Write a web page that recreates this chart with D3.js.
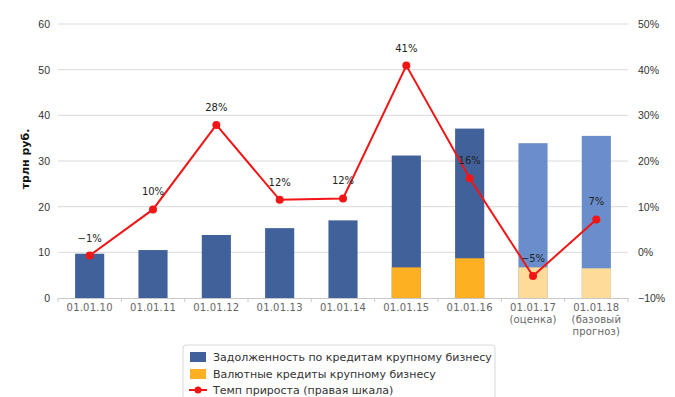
<!DOCTYPE html>
<html>
<head>
<meta charset="utf-8">
<script src="https://cdn.jsdelivr.net/npm/d3@7"></script>
<style>
  body { margin: 0; background: #fff; }
  svg { font-family: "DejaVu Sans", sans-serif; }
</style>
</head>
<body>
<svg id="chart" width="675" height="397"></svg>
<script>
// data
const categories = ["01.01.10", "01.01.11", "01.01.12", "01.01.13", "01.01.14",
                    "01.01.15", "01.01.16", "01.01.17\n(оценка)", "01.01.18\n(базовый\nпрогноз)"];
const totalDebt = [9.7, 10.5, 13.8, 15.3, 17.0, 31.2, 37.1, 33.9, 35.5];
const fxLoans = [0, 0, 0, 0, 0, 6.7, 8.7, 6.7, 6.5];
const isForecast = [false, false, false, false, false, false, false, true, true];
const growth = [-0.7, 9.4, 27.9, 11.5, 11.8, 40.9, 16.2, -5.2, 7.2];
const growthLabels = ["\u22121%", "10%", "28%", "12%", "12%", "41%", "16%", "\u22125%", "7%"];
const leftTicks = [0, 10, 20, 30, 40, 50, 60];
const rightTicks = [-10, 0, 10, 20, 30, 40, 50];
const legendItems = ["Задолженность по кредитам крупному бизнесу",
                     "Валютные кредиты крупному бизнесу",
                     "Темп прироста (правая шкала)"];

const svg = d3.select("#chart");
const margin = {top: 24, right: 47, bottom: 99, left: 58},
    width = 675 - margin.left - margin.right,
    height = 397 - margin.top - margin.bottom;

const colors = {
    blue: "#41619b", blueLight: "#6a8ecb",
    orange: "#fdb022", orangeLight: "#fedb98",
    red: "#f21515", grid: "#dadada"
};

const x = d3.scaleBand().domain(categories).range([0, width]).paddingInner(0.54).paddingOuter(0.27);
const yL = d3.scaleLinear().domain([0, 60]).range([height, 0]);
const yR = d3.scaleLinear().domain([-10, 50]).range([height, 0]);

const g = svg.append("g").attr("transform", `translate(${margin.left},${margin.top})`);

// gridlines
g.append("g")
    .selectAll("line")
    .data(leftTicks.slice(1))
    .join("line")
    .attr("x1", 0).attr("x2", width)
    .attr("y1", d => yL(d)).attr("y2", d => yL(d))
    .attr("stroke", colors.grid).attr("stroke-width", 1);

// left axis
const axL = g.append("g")
    .call(d3.axisLeft(yL).tickValues(leftTicks).tickSize(0).tickPadding(8));
axL.select(".domain").remove();
axL.selectAll("text").style("font-size", "10.5px").attr("fill", "#333");

// right axis
const axR = g.append("g").attr("transform", `translate(${width},0)`)
    .call(d3.axisRight(yR).tickValues(rightTicks).tickSize(0).tickPadding(10)
        .tickFormat(d => (d < 0 ? "\u2212" + Math.abs(d) : d) + "%"));
axR.select(".domain").remove();
axR.selectAll("text").style("font-size", "10.5px").attr("fill", "#333");

// bars
const bars = g.append("g").selectAll("g").data(categories).join("g");
bars.append("rect")
    .attr("x", d => x(d))
    .attr("width", x.bandwidth())
    .attr("y", (d, i) => yL(totalDebt[i]))
    .attr("height", (d, i) => yL(0) - yL(totalDebt[i]))
    .attr("fill", (d, i) => isForecast[i] ? colors.blueLight : colors.blue);
bars.filter((d, i) => fxLoans[i] > 0).append("rect")
    .attr("x", d => x(d))
    .attr("width", x.bandwidth())
    .attr("y", d => yL(fxLoans[categories.indexOf(d)]))
    .attr("height", d => yL(0) - yL(fxLoans[categories.indexOf(d)]))
    .attr("fill", d => isForecast[categories.indexOf(d)] ? colors.orangeLight : colors.orange);

// x axis
const axX = g.append("g").attr("transform", `translate(0,${height})`)
    .call(d3.axisBottom(x).tickSize(0).tickFormat(""));
axX.select(".domain").attr("stroke", "#c8c8c8");
const step = x.step();
g.append("g").selectAll("line")
    .data(d3.range(categories.length + 1))
    .join("line")
    .attr("x1", i => i * step).attr("x2", i => i * step)
    .attr("y1", height).attr("y2", height + 4)
    .attr("stroke", "#c8c8c8");
const xl = g.append("g").selectAll("text").data(categories).join("text")
    .attr("x", d => x(d) + x.bandwidth() / 2)
    .attr("y", height + 13)
    .attr("text-anchor", "middle")
    .style("font-size", "10px")
    .style("letter-spacing", "0.2px")
    .attr("fill", "#666");
xl.each(function(d) {
    d.split("\n").forEach((s, k) => {
        d3.select(this).append("tspan")
            .attr("x", x(d) + x.bandwidth() / 2)
            .attr("dy", k === 0 ? 0 : 12)
            .text(s);
    });
});

// line
const cx = i => x(categories[i]) + x.bandwidth() / 2;
const line = d3.line().x((d, i) => cx(i)).y(d => yR(d));
g.append("path").datum(growth)
    .attr("d", line)
    .attr("fill", "none")
    .attr("stroke", colors.red)
    .attr("stroke-width", 2);
g.append("g").selectAll("circle").data(growth).join("circle")
    .attr("cx", (d, i) => cx(i)).attr("cy", d => yR(d))
    .attr("r", 4).attr("fill", colors.red);
g.append("g").selectAll("text").data(growth).join("text")
    .attr("x", (d, i) => cx(i)).attr("y", d => yR(d) - 14)
    .attr("text-anchor", "middle")
    .style("font-size", "10px")
    .attr("fill", "#222")
    .text((d, i) => growthLabels[i]);

// y title
svg.append("text")
    .attr("transform", `translate(29,${margin.top + height / 2 - 2}) rotate(-90)`)
    .attr("text-anchor", "middle")
    .style("font-size", "11px")
    .style("font-weight", "bold")
    .attr("fill", "#111")
    .text("трлн руб.");

// legend
const lg = svg.append("g").attr("transform", "translate(183,345)");
lg.append("rect")
    .attr("width", 312).attr("height", 60).attr("rx", 3)
    .attr("fill", "#fff").attr("stroke", "#d8d8d8");
const rowY = [12, 29, 45];
lg.append("rect").attr("x", 7).attr("y", rowY[0] - 5).attr("width", 16).attr("height", 10).attr("fill", colors.blue);
lg.append("rect").attr("x", 7).attr("y", rowY[1] - 5).attr("width", 16).attr("height", 10).attr("fill", colors.orange);
lg.append("line").attr("x1", 6).attr("x2", 24).attr("y1", rowY[2]).attr("y2", rowY[2])
    .attr("stroke", colors.red).attr("stroke-width", 2);
lg.append("circle").attr("cx", 15).attr("cy", rowY[2]).attr("r", 3.5).attr("fill", colors.red);
lg.selectAll("text.item").data(legendItems).join("text")
    .attr("class", "item")
    .attr("x", 30).attr("y", (d, i) => rowY[i] + 4)
    .style("font-size", "11px")
    .attr("fill", "#333")
    .text(d => d);
</script>
</body>
</html>
